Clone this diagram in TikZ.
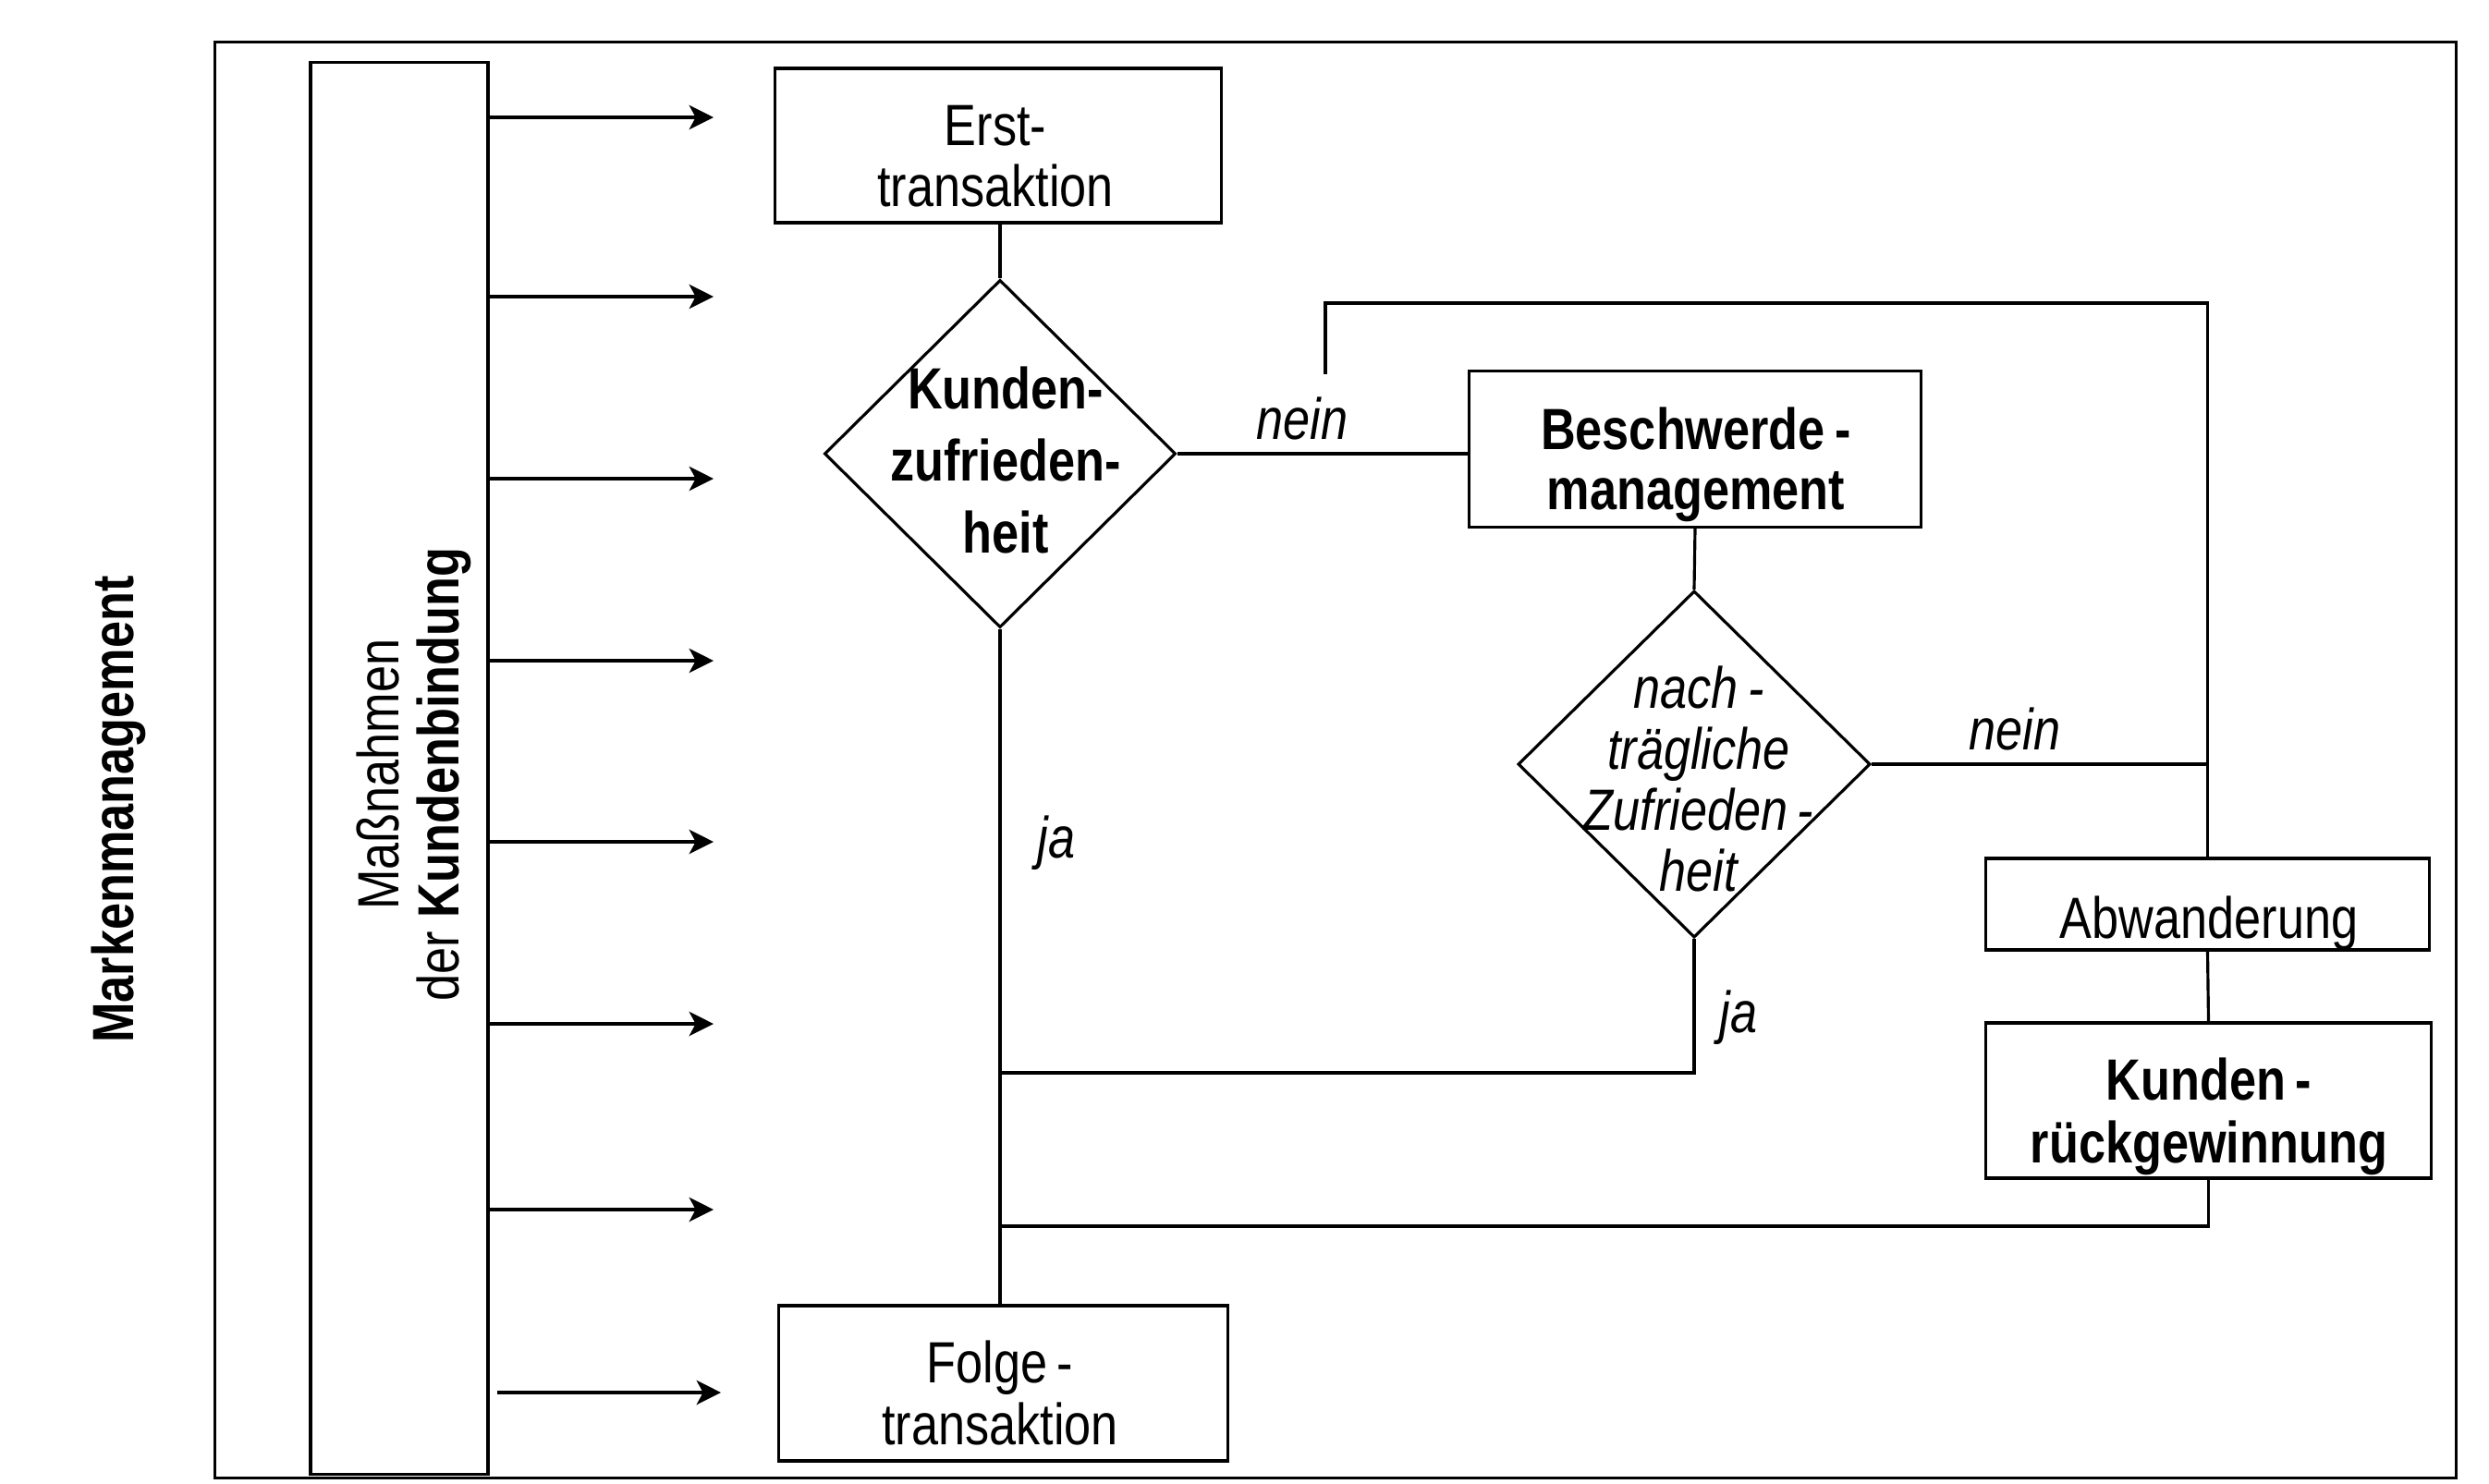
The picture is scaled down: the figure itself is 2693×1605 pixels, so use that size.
\documentclass[tikz,border=0pt]{standalone}
\usepackage{fontspec}
\setmainfont{Liberation Sans}[FakeStretch=0.83]
\usetikzlibrary{arrows.meta,shapes.geometric}
\begin{document}
\begin{tikzpicture}[x=0.01cm,y=-0.01cm,line width=0.9pt,
  box/.style={draw,rectangle,inner sep=0pt},
  dia/.style={draw,diamond,inner sep=0pt},
  txt/.style={inner sep=0pt,align=center,anchor=north},
  fn/.style={font=\fontsize{17.9}{18.7}\selectfont},
  lbl/.style={inner sep=0pt,anchor=base,font=\fontsize{17.9}{18.7}\selectfont\itshape},
  arr/.style={-{Stealth[length=7.5pt,width=7.5pt,inset=2pt]}}]
\useasboundingbox (0,0) rectangle (2693,1605);

% frames
\node[box,minimum width=24.24cm,minimum height=15.53cm] (frame) at (1445,822.5) {};
\node[box,minimum width=1.92cm,minimum height=15.27cm] (mass) at (432,831.5) {};

% boxes
\node[box,minimum width=4.82cm,minimum height=1.67cm] (erst) at (1080,157.5) {};
\node[dia,minimum width=3.80cm,minimum height=3.76cm] (kz) at (1082,491) {};
\node[box,minimum width=4.88cm,minimum height=1.69cm] (besch) at (1834,486) {};
\node[dia,minimum width=3.81cm,minimum height=3.75cm] (nz) at (1833,827) {};
\node[box,minimum width=4.79cm,minimum height=0.99cm] (abw) at (2388.5,978.5) {};
\node[box,minimum width=4.81cm,minimum height=1.68cm] (kr) at (2389.5,1191) {};
\node[box,minimum width=4.85cm,minimum height=1.68cm] (folge) at (1085.5,1497) {};

% texts
\node[txt,fn] (terst) at (1077,113) {Erst-\\transaktion};
\node[txt,font=\fontsize{17.9}{22.2}\selectfont\bfseries] (tkz) at (1088,395) {Kunden-\\zufrieden-\\heit};
\node[txt,font=\fontsize{17.9}{18.6}\selectfont\bfseries] (tbesch) at (1835,439) {Beschwerde\,-\\management};
\node[txt,font=\fontsize{17.9}{18.8}\selectfont\itshape] (tnz) at (1838,719) {nach\,-\\trägliche\\Zufrieden\,-\\heit};
\node[txt,fn] (tabw) at (2390,968) {Abwanderung};
\node[txt,font=\fontsize{17.9}{19.3}\selectfont\bfseries] (tkr) at (2390,1143) {Kunden\,-\\rückgewinnung};
\node[txt,font=\fontsize{17.9}{19.1}\selectfont] (tfolge) at (1082,1449) {Folge\,-\\transaktion};

\node[inner sep=0pt,rotate=90,font=\fontsize{17.9}{18.7}\selectfont\bfseries] (tmark) at (128,876) {Markenmanagement};
\node[inner sep=0pt,rotate=90,align=center,font=\fontsize{17.9}{18.5}\selectfont] (tmass) at (448,838) {Maßnahmen\\der \textbf{Kundenbindung}};

% labels
\node[lbl] (lnein1) at (1409,475) {nein};
\node[lbl] (lnein2) at (2180,811) {nein};
\node[lbl] (lja1) at (1143,928) {ja};
\node[lbl] (lja2) at (1881,1117) {ja};

% arrows from Massnahmen
\coordinate (t1) at (772,127);
\coordinate (t2) at (772,321);
\coordinate (t3) at (772,518);
\coordinate (t4) at (772,715);
\coordinate (t5) at (772,911);
\coordinate (t6) at (772,1108);
\coordinate (t7) at (772,1309);
\coordinate (t8) at (780,1507);
\coordinate (s8) at (538,1507);
\foreach \i in {1,...,7} {\draw[arr] (mass.east |- t\i) -- (t\i);}
\draw[arr] (s8) -- (t8);

% connectors
\coordinate (fb) at (1434,405);
\coordinate (fbtop) at (1434,328);
\coordinate (j1) at (1082,1161);
\coordinate (j2) at (1082,1327);
\draw (erst.south -| kz.north) -- (kz.north);
\draw (kz.east) -- (kz.east -| besch.west);
\draw (kz.south) -- (kz.south |- folge.north);
\draw (besch.south) -- (nz.north);
\draw (fb) -- (fbtop) -| (abw.north);
\draw (nz.east) -- (nz.east -| abw.north);
\draw (abw.south) -- (kr.north);
\draw (kr.south) |- (j2);
\draw (nz.south) |- (j1);
\end{tikzpicture}
\end{document}
